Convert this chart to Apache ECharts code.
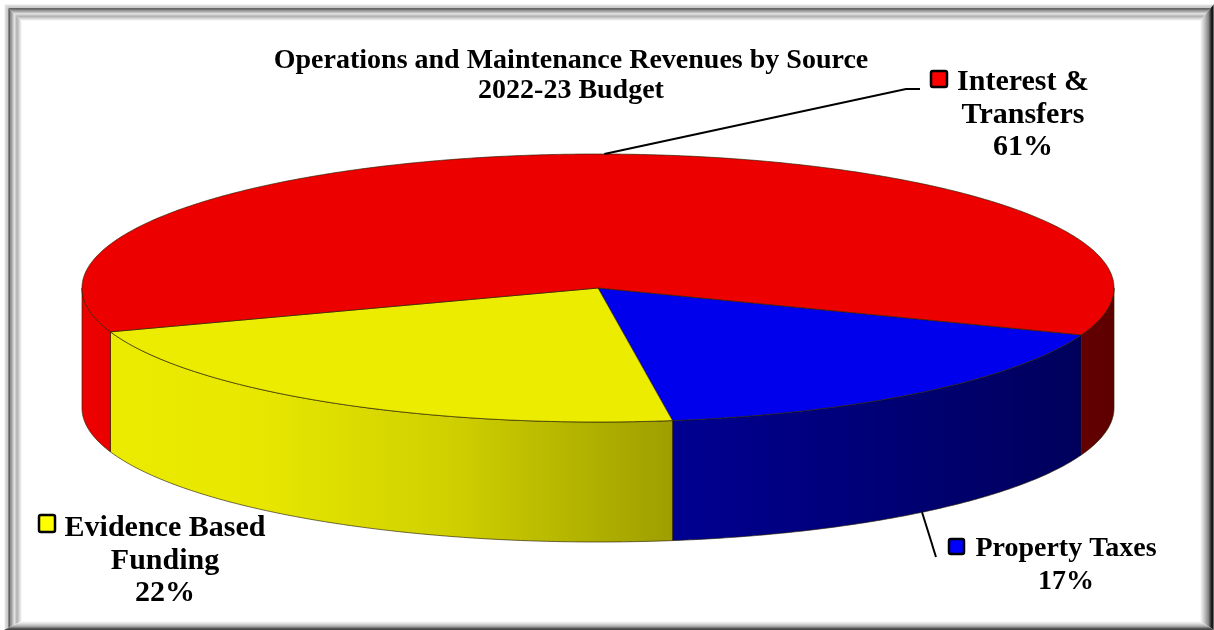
<!DOCTYPE html>
<html>
<head>
<meta charset="utf-8">
<title>Operations and Maintenance Revenues by Source</title>
<style>html,body{margin:0;padding:0;background:#fff}#chart{width:1214px;height:630px}</style>
<script src="https://cdn.jsdelivr.net/npm/echarts@6/dist/echarts.min.js"></script>
</head>
<body>
<div id="chart"></div>
<script>
// Revenue shares, in the order the slices run clockwise from the start angle
const sources = ['Property Taxes', 'Evidence Based\nFunding', 'Interest &\nTransfers'];
const shares = [17, 22, 61];
const titleLines = ['Operations and Maintenance Revenues by Source', '2022-23 Budget'];

// Colours per slice: top face, side wall base colour, legend key
const topColors = ['#0000ec', '#ecec00', '#ec0000'];
const wallColors = ['#0000d8', '#ecec00', '#ec0000'];
const keyColors = ['#0000ff', '#ffff00', '#ff0000'];

// Tilted disc geometry
const disc = { cx: 598, cy: 288, rx: 516, ry: 134, depth: 120, startDeg: 20.5 };
// Side walls darken from left to right, as a single horizontal light falloff
const wallShade = [[82, 1], [260, 0.98], [450, 0.88], [673, 0.67], [1085, 0.42], [1114, 0.4]];

// Label blocks: text centre, first line centre, font size, legend key box, optional leader path end
const labelLayout = [
  { x: 1066, y: 549, size: 28, key: [949, 539, 15, 15], leader: [[936, 557]], base: 'bottom' },
  { x: 165, y: 528, size: 30, key: [39, 515, 16, 17] },
  { x: 1023, y: 82, size: 30, key: [931, 71, 16, 16], leader: [[906, 89], [920, 89]], base: 'top' }
];

const rad = d => d * Math.PI / 180;
const rimPoint = (deg, dy) => [
  disc.cx + disc.rx * Math.cos(rad(deg)),
  disc.cy + disc.ry * Math.sin(rad(deg)) + dy
];
const arc = (from, to, dy) => {
  const pts = [];
  const steps = Math.max(2, Math.ceil(Math.abs(to - from) * 2));
  for (let i = 0; i <= steps; i++) pts.push(rimPoint(from + (to - from) * i / steps, dy));
  return pts;
};

const total = shares.reduce((a, b) => a + b, 0);
const spans = [];
shares.reduce((acc, v) => {
  const next = acc + v / total * 360;
  spans.push([acc, next]);
  return next;
}, disc.startDeg);

function wallFill(color) {
  const r = parseInt(color.slice(1, 3), 16), g = parseInt(color.slice(3, 5), 16), b = parseInt(color.slice(5, 7), 16);
  const x0 = wallShade[0][0], x1 = wallShade[wallShade.length - 1][0];
  const stops = wallShade.map(([x, s]) => ({
    offset: (x - x0) / (x1 - x0),
    color: `rgb(${Math.round(r * s)},${Math.round(g * s)},${Math.round(b * s)})`
  }));
  return new echarts.graphic.LinearGradient(x0, 0, x1, 0, stops, true);
}

function renderSlice(params, api) {
  const i = params.dataIndex;
  const value = api.value(0);
  const [a, b] = spans[i];
  const edge = 'rgba(40,30,0,0.65)';
  const children = [];

  // Only the lower half of the rim faces the viewer
  for (const k of [0, 360]) {
    const from = Math.max(a, k), to = Math.min(b, k + 180);
    if (to > from) {
      children.push({
        type: 'polygon',
        shape: { points: arc(from, to, 0).concat(arc(to, from, disc.depth)) },
        style: { fill: wallFill(wallColors[i]), stroke: edge, lineWidth: 1 }
      });
    }
  }
  children.push({
    type: 'polygon',
    shape: { points: [[disc.cx, disc.cy]].concat(arc(a, b, 0)) },
    style: { fill: topColors[i], stroke: edge, lineWidth: 1 }
  });

  // Leader line from the rim at the slice's mid angle
  const lay = labelLayout[i];
  if (lay.leader) {
    const mid = (a + b) / 2;
    const from = rimPoint(mid, lay.base === 'bottom' ? disc.depth : 0);
    children.push({
      type: 'polyline',
      shape: { points: [from].concat(lay.leader) },
      style: { fill: null, stroke: '#000', lineWidth: 2 },
      z2: 5
    });
  }

  children.push({
    type: 'rect',
    shape: { x: lay.key[0], y: lay.key[1], width: lay.key[2], height: lay.key[3], r: 2 },
    style: { fill: keyColors[i], stroke: '#000', lineWidth: 2.5 },
    z2: 6
  });
  children.push({
    type: 'text',
    z2: 6,
    style: {
      text: sources[i] + '\n' + value + '%',
      x: lay.x,
      y: lay.y - 16,
      align: 'center',
      verticalAlign: 'top',
      fontFamily: '"Liberation Serif"',
      fontWeight: 'bold',
      fontSize: lay.size,
      lineHeight: 32.5,
      fill: '#000'
    }
  });
  return { type: 'group', children };
}

// Bevelled picture frame: four mitred bands with graded fills
const band = (points, x0, y0, x1, y1, stops) => ({
  type: 'polygon',
  shape: { points },
  style: {
    fill: new echarts.graphic.LinearGradient(x0, y0, x1, y1,
      stops.map(([offset, color]) => ({ offset, color })), true)
  },
  silent: true
});
const outerBevel = [
  [0, '#ffffff'], [0.1, '#d8d8d8'], [0.22, '#c8c8c8'], [0.28, '#444444'], [0.34, '#888888'],
  [0.42, '#a0a0a0'], [0.58, '#e4e4e4'], [0.72, '#b0b0b0'], [1, '#ffffff']
];
const frame = [
  band([[4, 4], [1214, 4], [1200, 21], [22, 21]], 0, 4, 0, 21, outerBevel),
  band([[4, 4], [22, 21], [22, 621], [4, 630]], 4, 0, 22, 0, outerBevel),
  band([[1214, 4], [1200, 21], [1200, 621], [1214, 630]], 1200, 0, 1214, 0,
    [[0, '#ffffff'], [0.3, '#c8c8c8'], [0.6, '#888888'], [0.85, '#101010'], [0.93, '#202020'], [1, '#b0b0b0']]),
  band([[4, 630], [22, 621], [1200, 621], [1214, 630]], 0, 621, 0, 630,
    [[0, '#ffffff'], [0.3, '#dddddd'], [0.6, '#a8a8a8'], [0.9, '#404040'], [1, '#505050']])
];

const chart = echarts.init(document.getElementById('chart'), null, { renderer: 'canvas' });
chart.setOption({
  animation: false,
  backgroundColor: '#ffffff',
  title: {
    text: titleLines.join('\n'),
    left: 566,
    top: 41,
    textAlign: 'center',
    textStyle: {
      fontFamily: '"Liberation Serif"',
      fontWeight: 'bold',
      fontSize: 28,
      lineHeight: 30,
      color: '#000'
    }
  },
  graphic: { elements: frame },
  series: [{
    type: 'custom',
    coordinateSystem: 'none',
    renderItem: renderSlice,
    data: shares.map((v, i) => ({ name: sources[i].replace('\n', ' '), value: [v] })),
    silent: true
  }]
});
</script>
</body>
</html>
